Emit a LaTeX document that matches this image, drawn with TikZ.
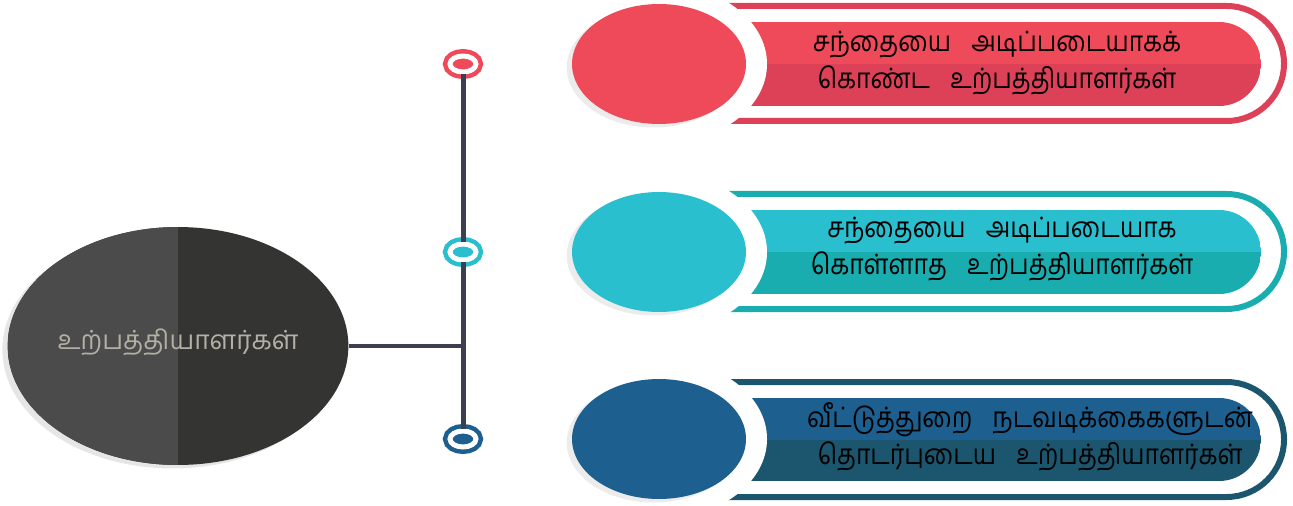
\documentclass[tikz,border=0pt]{standalone}
\usepackage{fontspec}
\newfontfamily\tamilfont[Script=Tamil]{Hind Madurai}
\newfontfamily\tamilnarrow[Script=Tamil, FakeStretch=0.88]{Hind Madurai}
\usepackage{tikz}
\usetikzlibrary{positioning}
\usetikzlibrary{shapes.geometric, shadows}
\definecolor{redtop}{HTML}{EF4A5A}
\definecolor{redlow}{HTML}{DC4157}
\definecolor{tealtop}{HTML}{29BFCF}
\definecolor{teallow}{HTML}{19ADB0}
\definecolor{bluetop}{HTML}{1D5F8E}
\definecolor{bluelow}{HTML}{1C566E}
\definecolor{greylight}{HTML}{4B4B4B}
\definecolor{greydark}{HTML}{343432}
\definecolor{stemcol}{HTML}{3B3F4F}
\definecolor{hubtext}{HTML}{B3AFA4}
\tikzstyle{hubnode} = [ellipse, minimum width=6.8cm, minimum height=4.76cm, inner sep=0pt, fill=greydark, path picture={\fill[greylight] (path picture bounding box.north west) rectangle (path picture bounding box.south);}, drop shadow={shadow xshift=-3pt, shadow yshift=-2pt, opacity=0.2}, text=hubtext, font=\tamilfont\fontsize{15}{18}\selectfont]
\tikzstyle{ring} = [ellipse, minimum width=0.52cm, minimum height=0.32cm, inner sep=0pt, line width=0.09cm, double=white, double distance=0.1cm]
\tikzstyle{badge} = [ellipse, minimum width=3.48cm, minimum height=2.4cm, inner sep=0pt, drop shadow={shadow xshift=-3pt, shadow yshift=-2pt, opacity=0.15}]
\tikzstyle{rim} = [line width=0.12cm, rounded corners=1.15cm]
\tikzstyle{bartext} = [align=center, text=black, font=\tamilnarrow\fontsize{16}{21}\selectfont]
\tikzstyle{stem} = [stemcol, line width=0.1cm]
\def\gap{\hspace{8pt} }

\begin{document}
\begin{tikzpicture}[x=0.02cm, y=-0.02cm]
      \useasboundingbox (0,0) rectangle (1293,506);
      %%%%%%%%%%%%%%%%%%%%%%%%%%%%%%%%%%%%%%%
      % first banner
      \draw[rim, redlow] (700,6) -- (1284,6) -- (1284,121) -- (700,121);
      \begin{scope}
      \clip[rounded corners=0.84cm] (700,22) rectangle (1261,106);
      \fill[redtop] (700,22) rectangle (1261,64);
      \fill[redlow] (700,64) rectangle (1261,106);
      \end{scope}
      \fill[white] (659,64) ellipse [x radius=108, y radius=80];
      \node[badge, fill=redtop] (c1) at (659,64) {};
      \node[bartext] (t1) at (997,63) {சந்தையை\gap அடிப்படையாகக்\\கொண்ட\gap உற்பத்தியாளர்கள்};
      % second banner
      \draw[rim, teallow] (700,194) -- (1284,194) -- (1284,309) -- (700,309);
      \begin{scope}
      \clip[rounded corners=0.84cm] (700,210) rectangle (1261,294);
      \fill[tealtop] (700,210) rectangle (1261,252);
      \fill[teallow] (700,252) rectangle (1261,294);
      \end{scope}
      \fill[white] (659,252) ellipse [x radius=108, y radius=80];
      \node[badge, fill=tealtop] (c2) at (659,252) {};
      \node[bartext] (t2) at (1002,249) {சந்தையை\gap அடிப்படையாக\\கொள்ளாத\gap உற்பத்தியாளர்கள்};
      % third banner
      \draw[rim, bluelow] (700,382) -- (1284,382) -- (1284,497) -- (700,497);
      \begin{scope}
      \clip[rounded corners=0.84cm] (700,398) rectangle (1261,481);
      \fill[bluetop] (700,398) rectangle (1261,440);
      \fill[bluelow] (700,440) rectangle (1261,481);
      \end{scope}
      \fill[white] (659,439) ellipse [x radius=108, y radius=80];
      \node[badge, fill=bluetop] (c3) at (659,439) {};
      \node[bartext] (t3) at (1030,437) {வீட்டுத்துறை\gap நடவடிக்கைகளுடன்\\தொடர்புடைய\gap உற்பத்தியாளர்கள்};
      %%%%%%%%%%%%%%%%%%%%%%%%%%%%%%%%%%%%%%%
      \node[hubnode] (prod) at (178,346) {\raisebox{8pt}{உற்பத்தியாளர்கள்}};
      \node[ring, draw=redtop, fill=redtop] (r1) at (463,64) {};
      \node[ring, draw=tealtop, fill=tealtop] (r2) at (463,252) {};
      \node[ring, draw=bluetop, fill=bluetop] (r3) at (463,439) {};
      \coordinate (joint) at (463,346);
      \draw[stem] (r1)--(r2);
      \draw[stem] (r2)--(r3);
      \draw[stem, line width=0.08cm] (prod)--(joint);
      \end{tikzpicture}
\end{document}
